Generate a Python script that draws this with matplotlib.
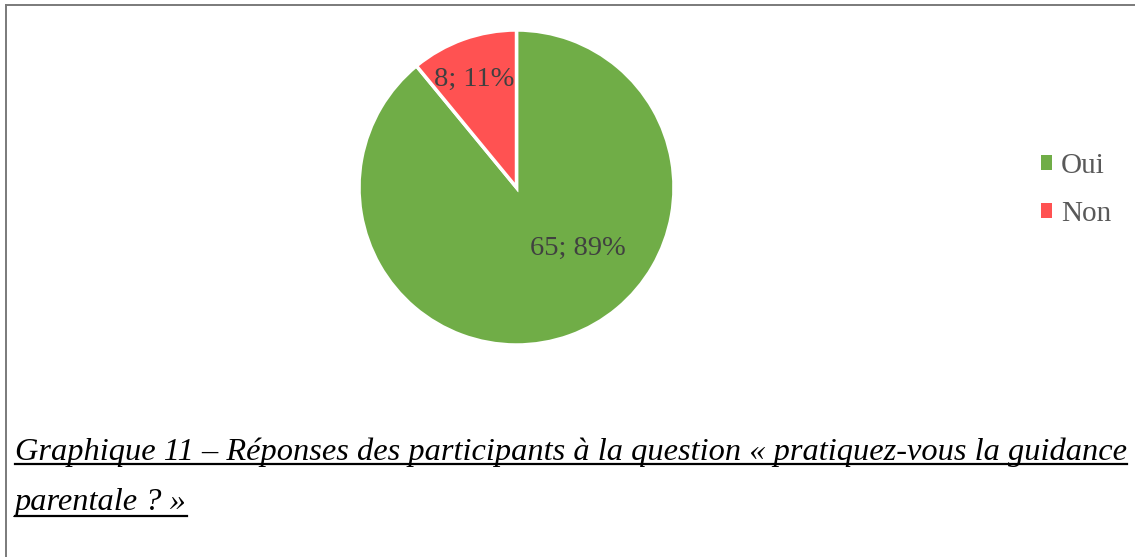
import matplotlib
matplotlib.use("Agg")
import matplotlib.pyplot as plt
from matplotlib.patches import Patch
from matplotlib.lines import Line2D
import numpy as np

categories = ["Oui", "Non"]
values = [65, 8]
percents = ["89%", "11%"]
colors = ["#70AD47", "#FF5252"]
caption_line1 = "Graphique 11 – Réponses des participants à la question « pratiquez-vous la guidance"
caption_line2 = "parentale ? »"

W, H = 1135, 557
fig = plt.figure(figsize=(W / 100, H / 100), dpi=100)
fig.patch.set_facecolor("white")

def px(x, y):
    return x / W, 1 - y / H

# pie axes
cx, cy, r = 516.5, 187.5, 157.5
ax = fig.add_axes([(cx - r) / W, (H - cy - r) / H, 2 * r / W, 2 * r / H])
wedges, _ = ax.pie(values, colors=colors, startangle=90, counterclock=False,
                   wedgeprops=dict(edgecolor="white", linewidth=2.5))
ax.set_xlim(-1, 1)
ax.set_ylim(-1, 1)
ax.set_aspect("equal")
ax.axis("off")

serif = ["Liberation Serif", "DejaVu Serif"]
lab_col = "#404040"
w = wedges[1]
mid = np.deg2rad((w.theta1 + w.theta2) / 2)
ax.text(0.73 * np.cos(mid) - 0.02, 0.73 * np.sin(mid), f"{values[1]}; {percents[1]}",
        ha="center", va="center", fontsize=20.5, color=lab_col, family=serif)
ax.text(0.39, -0.385, f"{values[0]}; {percents[0]}",
        ha="center", va="center", fontsize=20.5, color=lab_col, family=serif)

# legend
handles = [Patch(facecolor=c, edgecolor="none") for c in colors]
leg = fig.legend(handles, categories, loc="center left",
                 bbox_to_anchor=px(1015, 190), frameon=False,
                 prop=dict(family=serif, size=21), labelcolor="#595959",
                 handlelength=0.38, handleheight=0.38, handletextpad=0.3,
                 labelspacing=0.76)

# border (top and left)
gray = "#7a7a7a"
fig.add_artist(Line2D([5.5 / W, 1], [1 - 4.5 / H, 1 - 4.5 / H], color=gray, lw=1.4))
fig.add_artist(Line2D([5.5 / W, 5.5 / W], [0, 1 - 4.5 / H], color=gray, lw=1.4))

# caption
fig.canvas.draw()
renderer = fig.canvas.get_renderer()
x0, x1 = 15, 1124
t1 = fig.text(*px(x0, 460), caption_line1, ha="left", va="baseline",
              fontsize=20, style="italic", family=serif, color="black")
bb = t1.get_window_extent(renderer)
fs = 20 * (x1 - x0) / bb.width
t1.set_fontsize(fs)
t2 = fig.text(*px(x0, 510), caption_line2, ha="left", va="baseline",
              fontsize=fs, style="italic", family=serif, color="black")
fig.canvas.draw()
for t, yb in ((t1, 464), (t2, 515.5)):
    b = t.get_window_extent(renderer)
    fig.add_artist(Line2D([b.x0 / W, b.x1 / W], [1 - yb / H, 1 - yb / H],
                          color="black", lw=1.6))

fig.savefig("out.png", dpi=100, facecolor="white")
